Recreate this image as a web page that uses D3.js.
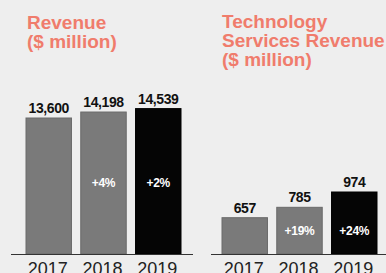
<!DOCTYPE html>
<html>
<head>
<meta charset="utf-8">
<script src="https://cdn.jsdelivr.net/npm/d3@7"></script>
<style>
  body { margin: 0; background: #eeeeee; }
  svg { display: block; }
</style>
</head>
<body>
<div id="chart"></div>
<script>
var years = ["2017", "2018", "2019"];
var revenue = [13600, 14198, 14539];
var revenueGrowth = [null, "+4%", "+2%"];
var techRevenue = [657, 785, 974];
var techGrowth = [null, "+19%", "+24%"];
var revenueTitle = ["Revenue", "($ million)"];
var techTitle = ["Technology", "Services Revenue", "($ million)"];

var width = 386, height = 273;
var baseY = 254;

var svg = d3.select("#chart").append("svg")
    .attr("width", width)
    .attr("height", height);

svg.append("rect")
    .attr("width", width).attr("height", height)
    .attr("fill", "#eeeeee");

function drawPanel(opts) {
  var g = svg.append("g");

  var x = d3.scaleBand()
      .domain(years)
      .range(opts.xRange)
      .paddingInner(0.17)
      .paddingOuter(0);

  var y = d3.scaleLinear()
      .domain(opts.yDomain)
      .range([baseY, opts.yTop]);

  var rows = years.map(function(yr, i) {
    return { year: yr, value: opts.values[i], growth: opts.growth[i], last: i == years.length - 1 };
  });

  // title
  g.append("text")
      .attr("x", opts.titleX)
      .attr("y", opts.titleY)
      .style("font", "bold 19px 'Liberation Sans', Arial, sans-serif")
      .style("fill", "#f07c6c")
      .selectAll("tspan")
      .data(opts.title)
      .enter().append("tspan")
        .attr("x", opts.titleX)
        .attr("dy", function(d, i) { return i == 0 ? 0 : 19; })
        .text(function(d) { return d; });

  g.selectAll(".bar")
    .data(rows)
    .enter().append("rect")
      .attr("class", "bar")
      .attr("x", function(d) { return x(d.year); })
      .attr("y", function(d) { return y(d.value); })
      .attr("width", x.bandwidth())
      .attr("height", function(d) { return baseY - y(d.value); })
      .attr("fill", function(d) { return d.last ? "#050505" : "#7a7a7a"; })
      .attr("stroke", function(d) { return d.last ? "#000" : "#6a6a6a"; })
      .attr("stroke-width", 1);

  // value labels
  g.selectAll(".val")
    .data(rows)
    .enter().append("text")
      .attr("class", "val")
      .attr("x", function(d) { return x(d.year) + x.bandwidth() / 2; })
      .attr("y", function(d) { return y(d.value) - 5; })
      .attr("text-anchor", "middle")
      .style("font", "bold 14px 'Liberation Sans', Arial, sans-serif")
      .style("letter-spacing", "-0.4px")
      .style("fill", "#111")
      .text(function(d) { return d3.format(",")(d.value); });

  // growth labels, all at the middle of the 2018 bar
  var midY = (y(opts.values[1]) + baseY) / 2;
  g.selectAll(".pct")
    .data(rows.filter(function(d) { return d.growth; }))
    .enter().append("text")
      .attr("class", "pct")
      .attr("x", function(d) { return x(d.year) + x.bandwidth() / 2; })
      .attr("y", midY)
      .attr("dy", "0.35em")
      .attr("text-anchor", "middle")
      .style("font", "bold 12px 'Liberation Sans', Arial, sans-serif")
      .style("letter-spacing", "-0.3px")
      .style("fill", "#fff")
      .text(function(d) { return d.growth; });

  // baseline
  g.append("line")
      .attr("x1", opts.lineX[0]).attr("x2", opts.lineX[1])
      .attr("y1", baseY + 0.5).attr("y2", baseY + 0.5)
      .attr("stroke", "#333")
      .attr("stroke-width", 1.2);

  // year labels (cut off at the bottom edge, as in the original)
  g.selectAll(".yr")
    .data(rows)
    .enter().append("text")
      .attr("class", "yr")
      .attr("x", function(d) { return x(d.year) + x.bandwidth() / 2 - 1; })
      .attr("y", 275)
      .attr("text-anchor", "middle")
      .style("font", "18px 'Liberation Sans', Arial, sans-serif")
      .style("fill", "#222")
      .text(function(d) { return d.year; });
}

drawPanel({
  values: revenue, growth: revenueGrowth, title: revenueTitle,
  xRange: [26, 181], yDomain: [0, 15000], yTop: 104,
  lineX: [11, 193], titleX: 27, titleY: 29
});

drawPanel({
  values: techRevenue, growth: techGrowth, title: techTitle,
  xRange: [222, 377], yDomain: [209, 974], yTop: 192,
  lineX: [211, 386], titleX: 222, titleY: 28
});
</script>
</body>
</html>
